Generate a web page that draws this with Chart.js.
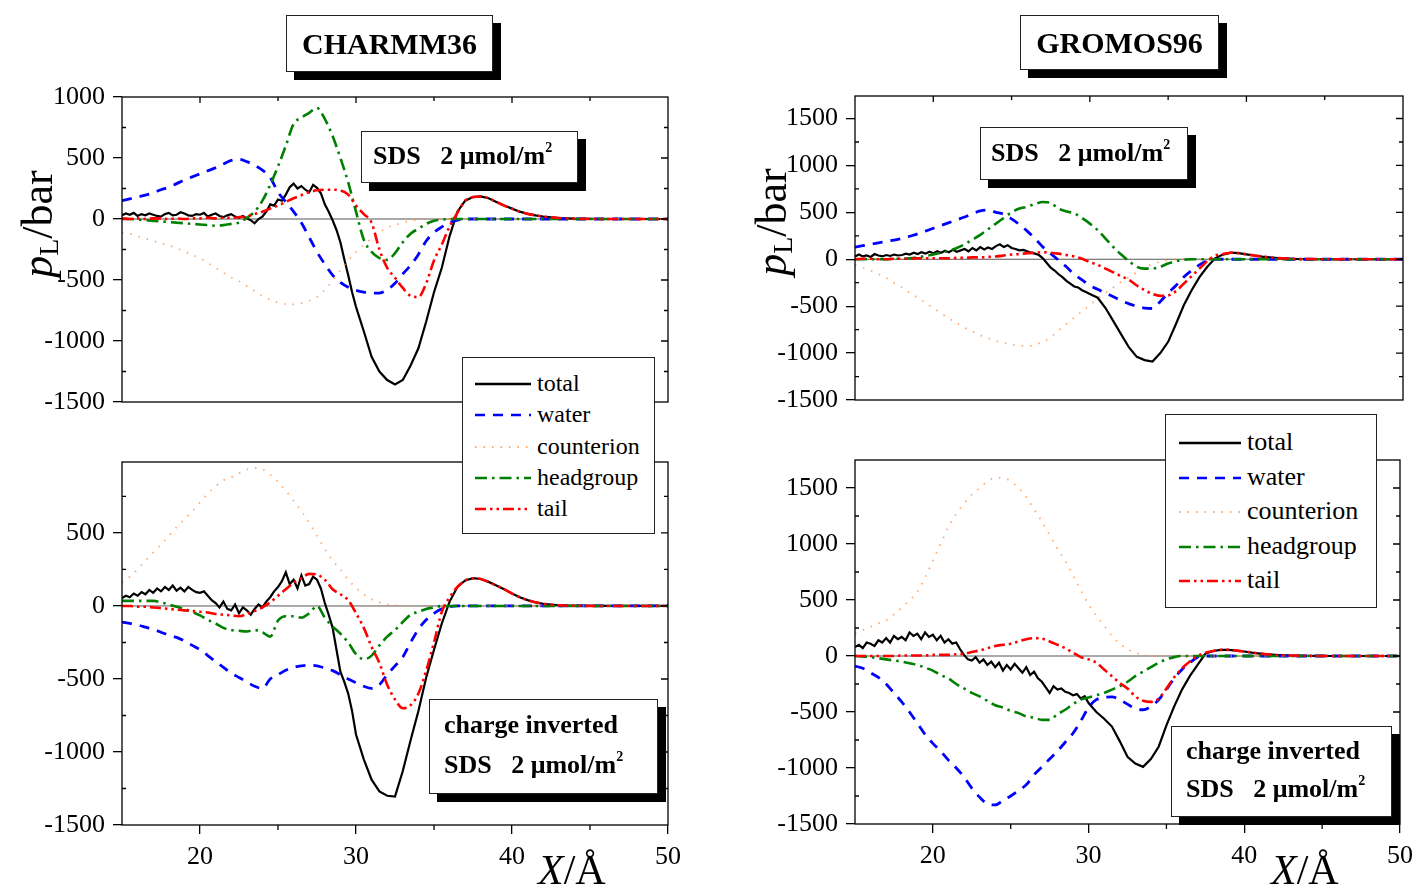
<!DOCTYPE html>
<html>
<head>
<meta charset="utf-8">
<script src="https://cdn.jsdelivr.net/npm/chart.js@4.4.1/dist/chart.umd.min.js"></script>
<style>
  body { margin: 0; background: #fff; }
  #page { position: relative; width: 1421px; height: 891px; overflow: hidden;
          font-family: 'Liberation Serif', 'Times New Roman', serif; color: #000; }
  canvas { position: absolute; left: 0; top: 0; }
  .box { position: absolute; background: #fff; border: 1px solid #222; box-shadow: 8px 8px 0 #000;
         font-weight: bold; white-space: pre; z-index: 5; }
  .box .ln { position: absolute; line-height: 30px; }
  .legend { position: absolute; background: #fff; border: 1px solid #222; z-index: 5; }
  .legend .row { position: absolute; white-space: nowrap; line-height: 30px; }
  .legend svg { position: absolute; }
  .ytitle { position: absolute; width: 150px; height: 50px; line-height: 50px; text-align: center;
            font-size: 44px; transform: rotate(-90deg); z-index: 5; white-space: nowrap; }
  .ytitle sub { font-size: 28px; vertical-align: -6px; line-height: 0; }
  .xtitle { position: absolute; font-size: 42px; line-height: 42px; z-index: 5; white-space: nowrap; }
  sup.s { font-size: 14px; vertical-align: baseline; position: relative; top: -12px; line-height: 0; }
</style>
</head>
<body>
<div id="page">
  <canvas id="lt" width="1421" height="891"></canvas>
  <canvas id="lb" width="1421" height="891"></canvas>
  <canvas id="rt" width="1421" height="891"></canvas>
  <canvas id="rb" width="1421" height="891"></canvas>

  <div class="box" style="left:286px;top:15px;width:205px;height:55px;line-height:55px;text-align:center;font-size:30px;">CHARMM36</div>
  <div class="box" style="left:1020px;top:15px;width:197px;height:53px;line-height:53px;text-align:center;font-size:30px;">GROMOS96</div>

  <div class="box" style="left:361px;top:131px;width:215px;height:50px;font-size:26px;"><span class="ln" style="left:11px;top:9px;">SDS   2 μmol/m<sup class="s">2</sup></span></div>
  <div class="box" style="left:980px;top:127px;width:206px;height:51px;font-size:26px;"><span class="ln" style="left:10px;top:10px;">SDS   2 μmol/m<sup class="s">2</sup></span></div>
  <div class="box" style="left:429px;top:699px;width:227px;height:93px;font-size:26px;"><span class="ln" style="left:14px;top:10px;">charge inverted</span><span class="ln" style="left:14px;top:50px;">SDS   2 μmol/m<sup class="s">2</sup></span></div>
  <div class="box" style="left:1171px;top:726px;width:219px;height:89px;font-size:26px;"><span class="ln" style="left:14px;top:9px;">charge inverted</span><span class="ln" style="left:14px;top:47px;">SDS   2 μmol/m<sup class="s">2</sup></span></div>

  <div class="legend" id="legL" style="left:462px;top:357px;width:191px;height:175px;font-size:24px;"></div>
  <div class="legend" id="legR" style="left:1165px;top:414px;width:210px;height:192px;font-size:26px;"></div>

  <div class="ytitle" style="left:-37px;top:199px;"><i>p</i><sub>L</sub>/bar</div>
  <div class="ytitle" style="left:697px;top:197px;"><i>p</i><sub>L</sub>/bar</div>
  <div class="xtitle" style="left:538px;top:849px;"><i>X</i>/Å</div>
  <div class="xtitle" style="left:1271px;top:849px;"><i>X</i>/Å</div>
</div>

<script>
// x positions (Å) for the component series
const xs = [15,15.5,16,16.5,17,17.5,18,18.5,19,19.5,
            20,20.5,21,21.5,22,22.5,23,23.5,24,24.5,
            25,25.5,26,26.5,27,27.5,28,28.5,29,29.5,
            30,30.5,31,31.5,32,32.5,33,33.5,34,34.5,
            35,35.5,36,36.5,37,37.5,38,38.5,39,39.5,
            40,40.5,41,41.5,42,43,44,46,48,50];

// x positions for the (noisier) total curves: finer up to 30 Å
const xsTotal = [15,15.25,15.5,15.75,16,16.25,16.5,16.75,17,17.25,
                 17.5,17.75,18,18.25,18.5,18.75,19,19.25,19.5,19.75,
                 20,20.25,20.5,20.75,21,21.25,21.5,21.75,22,22.25,
                 22.5,22.75,23,23.25,23.5,23.75,24,24.25,24.5,24.75,
                 25,25.25,25.5,25.75,26,26.25,26.5,26.75,27,27.25,
                 27.5,27.75,28,28.25,28.5,28.75,29,29.25,29.5,29.75,
                 30,30.5,31,31.5,32,32.5,33,33.5,34,34.5,
                 35,35.5,36,36.5,37,37.5,38,38.5,39,39.5,
                 40,40.5,41,41.5,42,43,44,46,48,50];

const xTicks = [20, 30, 40, 50];
const yTicksLT = [-1500, -1000, -500, 0, 500, 1000];
const yTicksLB = [-1500, -1000, -500, 0, 500];
const yTicksR = [-1500, -1000, -500, 0, 500, 1000, 1500];

const names = ['total', 'water', 'counterion', 'headgroup', 'tail'];

// CHARMM36, SDS
const ltTotal = [30,45,35,50,25,40,30,45,35,25,
  20,40,50,30,35,55,45,30,25,40,
  35,50,20,35,45,25,15,30,40,20,
  10,25,5,-10,-35,0,20,60,120,110,
  160,150,200,260,290,250,270,240,220,280,
  255,210,120,60,-10,-90,-190,-330,-460,-600,
  -720,-920,-1130,-1250,-1320,-1357,-1320,-1200,-1060,-840,
  -600,-400,-140,60,150,180,185,170,140,110,
  85,60,42,30,20,8,3,0,0,0];
const ltWater = [150,165,180,195,215,240,260,290,320,345,
  370,395,420,450,480,490,470,440,400,340,
  220,140,60,-30,-150,-270,-370,-460,-520,-560,
  -585,-600,-607,-607,-580,-527,-450,-380,-290,-180,
  -110,-65,-30,-10,0,0,0,0,0,0,
  0,0,0,0,0,0,0,0,0,0];
const ltCounter = [-110,-120,-140,-160,-180,-200,-215,-240,-265,-295,
  -320,-360,-400,-440,-480,-510,-550,-590,-630,-660,
  -685,-698,-700,-690,-670,-640,-580,-505,-420,-340,
  -270,-210,-160,-110,-70,-50,-30,-15,-5,0,
  0,0,0,0,0,0,0,0,0,0,
  0,0,0,0,0,0,0,0,0,0];
const ltHead = [0,0,-5,-10,-15,-20,-25,-30,-35,-40,
  -45,-50,-55,-50,-40,-30,10,60,150,280,
  430,600,780,830,870,910,820,680,500,300,
  60,-170,-270,-320,-335,-280,-190,-120,-80,-40,
  -15,-5,0,0,0,0,0,0,0,0,
  0,0,0,0,0,0,0,0,0,0];
const ltTail = [5,0,5,0,5,5,0,5,0,5,
  5,10,5,10,10,15,20,40,60,85,
  110,140,170,195,220,235,240,240,235,200,
  110,40,-30,-250,-400,-482,-565,-630,-640,-527,
  -340,-210,-60,50,150,180,185,170,140,110,
  85,60,42,30,20,8,3,0,0,0];

// CHARMM36, charge inverted
const lbTotal = [55,70,60,85,70,95,80,110,90,120,
  100,130,110,140,105,125,100,130,110,95,
  90,100,70,40,20,-10,30,-20,-30,10,
  -50,-10,-30,-60,-20,10,-10,30,60,100,
  130,170,230,150,180,120,210,140,150,200,
  180,120,20,-60,-150,-300,-450,-520,-600,-720,
  -880,-1050,-1190,-1270,-1300,-1305,-1130,-920,-720,-490,
  -300,-120,30,130,175,190,185,165,140,115,
  85,60,40,25,15,5,2,0,0,0];
const lbWater = [-110,-120,-130,-145,-160,-180,-200,-215,-240,-270,
  -300,-340,-380,-420,-460,-490,-520,-550,-565,-500,
  -470,-440,-420,-410,-405,-410,-425,-443,-470,-500,
  -525,-550,-565,-540,-470,-410,-350,-250,-160,-95,
  -50,-20,-5,0,0,0,0,0,0,0,
  0,0,0,0,0,0,0,0,0,0];
const lbCounter = [160,200,250,310,365,420,480,540,595,650,
  710,770,820,860,880,910,935,945,935,900,
  850,790,720,650,570,480,390,310,250,180,
  125,80,45,25,10,5,0,0,0,0,
  0,0,0,0,0,0,0,0,0,0,
  0,0,0,0,0,0,0,0,0,0];
const lbHead = [35,35,35,35,35,25,10,-5,-20,-40,
  -65,-95,-120,-150,-165,-170,-175,-165,-180,-210,
  -100,-70,-70,-80,-50,0,-80,-140,-190,-250,
  -330,-365,-340,-270,-210,-165,-110,-60,-40,-20,
  -10,0,0,0,0,0,0,0,0,0,
  0,0,0,0,0,0,0,0,0,0];
const lbTail = [0,0,-5,-5,-10,-15,-20,-25,-30,-35,
  -40,-45,-55,-60,-65,-70,-55,-35,-10,25,
  70,115,160,190,220,215,180,115,80,40,
  -50,-150,-280,-390,-540,-640,-700,-680,-600,-443,
  -250,-40,60,130,175,190,185,165,140,115,
  85,60,40,25,15,5,2,0,0,0];

// GROMOS96, SDS
const rtTotal = [30,50,30,40,25,55,40,30,45,35,
  50,40,45,60,50,70,55,75,60,80,
  65,85,70,90,75,100,80,95,110,85,
  120,95,130,105,125,110,140,160,130,150,
  120,110,95,100,85,70,60,45,10,-40,
  -90,-120,-160,-190,-230,-260,-290,-300,-330,-350,
  -370,-410,-520,-660,-800,-940,-1040,-1075,-1090,-1000,
  -880,-690,-490,-330,-190,-80,10,50,70,65,
  52,40,28,20,12,5,2,0,0,0];
const rtWater = [130,145,160,175,190,205,220,245,270,300,
  330,360,390,420,450,485,515,525,500,480,
  430,370,300,220,130,60,-10,-80,-160,-220,
  -280,-320,-360,-400,-440,-475,-500,-520,-525,-450,
  -360,-280,-190,-120,-60,-15,0,0,0,0,
  0,0,0,0,0,0,0,0,0,0];
const rtCounter = [-60,-90,-120,-160,-200,-250,-300,-355,-410,-465,
  -520,-575,-630,-680,-730,-770,-810,-840,-870,-890,
  -910,-920,-925,-910,-880,-830,-760,-690,-620,-555,
  -490,-420,-360,-300,-240,-190,-140,-90,-50,-25,
  -10,-3,0,0,0,0,0,0,0,0,
  0,0,0,0,0,0,0,0,0,0];
const rtHead = [0,0,0,0,0,5,5,10,20,35,
  50,70,90,120,160,210,260,320,380,440,
  500,540,560,590,610,600,540,510,490,440,
  380,310,220,130,50,-20,-80,-100,-100,-80,
  -45,-20,-5,0,0,0,0,0,0,0,
  0,0,0,0,0,0,0,0,0,0];
const rtTail = [0,5,5,0,0,5,5,5,10,10,
  10,10,10,15,15,20,20,25,30,40,
  50,55,65,70,75,70,60,45,30,5,
  -30,-60,-100,-140,-180,-220,-280,-330,-370,-390,
  -385,-340,-260,-180,-100,-20,40,55,70,65,
  52,40,28,20,12,5,2,0,0,0];

// GROMOS96, charge inverted
const rbTotal = [80,100,70,120,110,90,140,120,160,120,
  180,150,170,140,210,180,200,150,210,170,
  190,140,180,120,150,110,120,60,10,-30,
  -40,-10,-60,-30,-80,-50,-100,-60,-130,-80,
  -120,-70,-110,-150,-100,-170,-140,-200,-230,-280,
  -330,-270,-300,-290,-320,-330,-350,-340,-380,-360,
  -420,-500,-560,-630,-760,-900,-960,-990,-920,-810,
  -620,-450,-300,-180,-80,20,45,55,55,48,
  40,30,22,15,10,4,1,0,0,0];
const rbWater = [-90,-110,-150,-190,-250,-330,-410,-500,-600,-700,
  -780,-850,-930,-1000,-1080,-1180,-1260,-1320,-1330,-1290,
  -1250,-1200,-1150,-1060,-990,-920,-850,-770,-690,-580,
  -460,-390,-370,-365,-390,-430,-470,-480,-450,-390,
  -300,-200,-120,-60,-10,0,0,0,0,0,
  0,0,0,0,0,0,0,0,0,0];
const rbCounter = [200,230,260,290,320,370,430,500,570,700,
  850,1000,1150,1270,1360,1440,1500,1560,1590,1590,
  1560,1500,1420,1310,1200,1080,960,850,720,590,
  460,360,270,180,110,60,30,10,0,0,
  0,0,0,0,0,0,0,0,0,0,
  0,0,0,0,0,0,0,0,0,0];
const rbHead = [0,-5,-10,-20,-30,-40,-50,-65,-80,-105,
  -130,-170,-200,-250,-290,-330,-360,-400,-440,-460,
  -490,-510,-540,-550,-570,-570,-520,-480,-430,-390,
  -370,-350,-330,-300,-270,-230,-180,-140,-100,-60,
  -30,-10,0,0,0,0,0,0,0,0,
  0,0,0,0,0,0,0,0,0,0];
const rbTail = [0,0,0,0,0,0,5,5,5,5,
  10,10,10,15,20,35,50,70,90,100,
  110,130,150,160,155,130,100,70,30,-10,
  -30,-60,-120,-180,-240,-290,-360,-400,-410,-380,
  -290,-190,-110,-50,0,30,45,55,55,48,
  40,30,22,15,10,4,1,0,0,0];

const FONT = "'Liberation Serif', 'Times New Roman', serif";
const W = 1421, H = 891;

const styles = {
  total:      { color: '#000000', width: 2.2, dash: [], order: 5, smooth: false },
  water:      { color: '#0000ff', width: 2.8, dash: [10, 8], order: 4, smooth: true },
  counterion: { color: 'rgba(255,140,60,0.75)', width: 1.8, dash: [1.5, 7], order: 3, smooth: true },
  headgroup:  { color: '#008000', width: 2.6, dash: [12, 5, 2.5, 5], order: 2, smooth: true },
  tail:       { color: '#ff0000', width: 2.6, dash: [11, 4, 2.5, 4, 2.5, 4], order: 1, smooth: true }
};

const framePlugin = {
  id: 'frame',
  beforeDatasetsDraw(chart) {
    const { ctx, chartArea: a, scales: { y } } = chart;
    const y0 = y.getPixelForValue(0);
    ctx.save();
    ctx.strokeStyle = '#555';
    ctx.lineWidth = 1;
    ctx.beginPath();
    ctx.moveTo(a.left, y0);
    ctx.lineTo(a.right, y0);
    ctx.stroke();
    ctx.restore();
  },
  afterDraw(chart) {
    const { ctx, chartArea: a, scales: { x, y } } = chart;
    const top = chart.options.plugins.frame.top;
    ctx.save();
    ctx.strokeStyle = '#000';
    ctx.lineWidth = 1.3;
    ctx.strokeRect(a.left, a.top, a.right - a.left, a.bottom - a.top);
    ctx.beginPath();
    for (let v = -1500; v <= 2000; v += 250) {
      const p = y.getPixelForValue(v);
      if (p < a.top + 1 || p > a.bottom - 1) continue;
      const major = v % 500 === 0;
      ctx.moveTo(a.right, p); ctx.lineTo(a.right - (major ? 7 : 4), p);
      if (!major) { ctx.moveTo(a.left, p); ctx.lineTo(a.left + 4, p); }
    }
    for (let v = 20; v < 50; v += 5) {
      const p = x.getPixelForValue(v);
      const major = v % 10 === 0;
      if (top) { ctx.moveTo(p, a.top); ctx.lineTo(p, a.top + (major ? 6 : 4)); }
      else if (!major) { ctx.moveTo(p, a.bottom); ctx.lineTo(p, a.bottom + 5); }
    }
    ctx.stroke();
    ctx.restore();
  }
};

function makePanel(id, area, yMin, yMax, yTicks, showX, values) {
  const yW = 110, xH = 60;
  const datasets = values.map((arr, i) => {
    const st = styles[names[i]];
    const xv = i === 0 ? xsTotal : xs;
    return {
      label: names[i],
      data: arr.map((v, j) => ({ x: xv[j], y: v })),
      borderColor: st.color,
      borderWidth: st.width,
      borderDash: st.dash,
      pointRadius: 0,
      fill: false,
      tension: 0,
      cubicInterpolationMode: st.smooth ? 'monotone' : 'default',
      order: st.order
    };
  });
  const tickFont = { family: FONT, size: 26 };
  const grid = { display: true, drawOnChartArea: false, drawTicks: true, tickLength: 9, color: '#000', lineWidth: 1.3 };
  return new Chart(document.getElementById(id), {
    type: 'line',
    data: { datasets },
    options: {
      responsive: false,
      animation: false,
      devicePixelRatio: 1,
      events: [],
      layout: { padding: {
        left: area.l - yW, top: area.t, right: W - area.r,
        bottom: H - area.b - (showX ? xH : 0)
      } },
      plugins: { legend: { display: false }, tooltip: { enabled: false }, frame: { top: !showX } },
      scales: {
        x: {
          type: 'linear', min: 15, max: 50, display: showX,
          afterBuildTicks: s => { s.ticks = xTicks.map(v => ({ value: v })); },
          afterFit: s => { s.height = xH; },
          grid, border: { display: false },
          ticks: { font: tickFont, color: '#000', padding: 8, maxRotation: 0, callback: v => String(v) }
        },
        y: {
          type: 'linear', min: yMin, max: yMax,
          afterBuildTicks: s => { s.ticks = yTicks.map(v => ({ value: v })); },
          afterFit: s => { s.width = yW; },
          grid, border: { display: false },
          ticks: { font: tickFont, color: '#000', padding: 8, callback: v => String(v) }
        }
      }
    },
    plugins: [framePlugin]
  });
}

makePanel('lt', { l: 122, t: 97, r: 668, b: 462 }, -1500, 1000, yTicksLT, false,
  [ltTotal, ltWater, ltCounter, ltHead, ltTail]);
makePanel('lb', { l: 122, t: 462, r: 668, b: 825 }, -1500, 986, yTicksLB, true,
  [lbTotal, lbWater, lbCounter, lbHead, lbTail]);
makePanel('rt', { l: 855, t: 96, r: 1403, b: 460 }, -1500, 1740, yTicksR, false,
  [rtTotal, rtWater, rtCounter, rtHead, rtTail]);
makePanel('rb', { l: 855, t: 460, r: 1403, b: 824 }, -1500, 1750, yTicksR, true,
  [rbTotal, rbWater, rbCounter, rbHead, rbTail]);

// legends
function buildLegend(el, rowTops, sampleLeft, sampleW, textLeft) {
  names.forEach((n, i) => {
    const st = styles[n];
    const cy = rowTops[i];
    const svg = document.createElementNS('http://www.w3.org/2000/svg', 'svg');
    svg.setAttribute('width', sampleW);
    svg.setAttribute('height', 8);
    svg.style.left = sampleLeft + 'px';
    svg.style.top = (cy - 4) + 'px';
    const line = document.createElementNS('http://www.w3.org/2000/svg', 'line');
    line.setAttribute('x1', 0); line.setAttribute('y1', 4);
    line.setAttribute('x2', sampleW); line.setAttribute('y2', 4);
    line.setAttribute('stroke', st.color);
    line.setAttribute('stroke-width', n === 'counterion' ? 1.8 : 2.6);
    if (st.dash.length) line.setAttribute('stroke-dasharray', st.dash.join(' '));
    svg.appendChild(line);
    el.appendChild(svg);
    const row = document.createElement('div');
    row.className = 'row';
    row.style.left = textLeft + 'px';
    row.style.top = (cy - 16) + 'px';
    row.textContent = n;
    el.appendChild(row);
  });
}
buildLegend(document.getElementById('legL'), [26, 57, 89, 120, 151], 12, 56, 74);
buildLegend(document.getElementById('legR'), [28, 63, 97, 132, 166], 13, 62, 81);
</script>
</body>
</html>
